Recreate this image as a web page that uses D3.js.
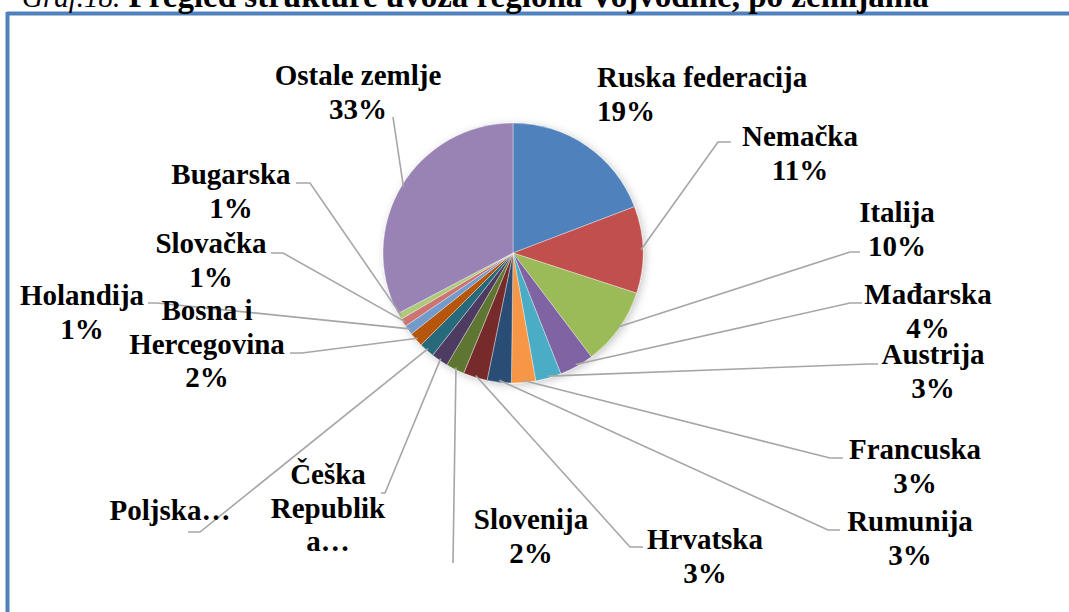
<!DOCTYPE html>
<html>
<head>
<meta charset="utf-8">
<script src="https://cdn.jsdelivr.net/npm/d3@7"></script>
<style>
html,body{margin:0;padding:0;background:#fff;}
svg{display:block;}
</style>
</head>
<body>
<svg id="chart" width="1069" height="612"></svg>
<script>
// ---- data ----
const categories = ["Ruska federacija","Nemačka","Italija","Mađarska","Austrija","Francuska","Rumunija","Hrvatska","Slovenija","Češka Republika","Poljska","Bosna i Hercegovina","Holandija","Slovačka","Bugarska","Ostale zemlje"];
const values = [19.2,10.8,9.7,4.3,3.2,3.0,3.0,3.0,2.3,2.1,1.9,1.8,1.2,1.0,0.8,32.7];
// label text lines as shown (some truncated in the original); "%" appended from values where shown
const labelNames = [["Ruska federacija"],["Nemačka"],["Italija"],["Mađarska"],["Austrija"],["Francuska"],["Rumunija"],["Hrvatska"],["Slovenija"],["Češka","Republik","a…"],["Poljska…"],["Bosna i","Hercegovina"],["Holandija"],["Slovačka"],["Bugarska"],["Ostale zemlje"]];
const showPct = [true,true,true,true,true,true,true,true,true,false,false,true,true,true,true,true];
const titleItalic = "Graf.18.";
const titleBold = " Pregled strukture uvoza regiona Vojvodine, po zemljama";

// ---- styles / layout ----
const colors = ["#4F81BD","#C0504D","#9BBB59","#8064A2","#4BACC6","#F79646","#2C4D75","#772C2A","#5F7530","#4D3B62","#276A7C","#B65708","#729ACA","#CD7371","#AFC97A","#9983B5"];
// label placement: x (anchor), first baseline y, anchor, leader elbow [x,y] and end [x,y] (null = no leader)
const labelLayout = [
  {x:597, y:87,  anchor:"start",  elbow:null, end:null},
  {x:800, y:146, anchor:"middle", elbow:[718,142], end:[731,142]},
  {x:897, y:222, anchor:"middle", elbow:[850,252], end:[860,252]},
  {x:928, y:304, anchor:"middle", elbow:[850,303], end:[862,303]},
  {x:933, y:364, anchor:"middle", elbow:[868,364], end:[878,364]},
  {x:915, y:459, anchor:"middle", elbow:[830,458], end:[843,458]},
  {x:910, y:531, anchor:"middle", elbow:[828,530], end:[840,530]},
  {x:705, y:549, anchor:"middle", elbow:[630,547], end:[643,547]},
  {x:531, y:529, anchor:"middle", elbow:[453,563], end:[453,563]},
  {x:328, y:484, anchor:"middle", elbow:[385,493], end:[381,493]},
  {x:170, y:520, anchor:"middle", elbow:[200,532], end:[188,532]},
  {x:207, y:320, anchor:"middle", elbow:[302,353], end:[290,353]},
  {x:82,  y:305, anchor:"middle", elbow:[157,303], end:[148,303]},
  {x:211, y:253, anchor:"middle", elbow:[283,253], end:[271,253]},
  {x:231, y:184, anchor:"middle", elbow:[310,183], end:[296,183]},
  {x:358, y:85,  anchor:"middle", elbow:[393,117], end:[393,117]}
];
const cx = 513, cy = 253, R = 130;
const fontSize = 29, lineGap = 33.5;
const fontFamily = "'Liberation Serif','Times New Roman',serif";

const svg = d3.select("#chart");
const defs = svg.append("defs");
const f = defs.append("filter").attr("id","sh").attr("x","-20%").attr("y","-20%").attr("width","140%").attr("height","140%");
f.append("feDropShadow").attr("dx",2).attr("dy",2).attr("stdDeviation",4).attr("flood-color","#000").attr("flood-opacity",0.22);

// frame (document border)
svg.append("line").attr("x1",7).attr("x2",1069).attr("y1",13.5).attr("y2",13.5).attr("stroke","#4F81BD").attr("stroke-width",4);
svg.append("line").attr("x1",7.5).attr("x2",7.5).attr("y1",12).attr("y2",612).attr("stroke","#4F81BD").attr("stroke-width",4);

// title (cut at top)
const t = svg.append("text").attr("x",22).attr("y",7).attr("font-family",fontFamily).attr("fill","#000");
t.append("tspan").attr("font-style","italic").attr("font-size",29).text(titleItalic);
t.append("tspan").attr("font-weight","bold").attr("font-size",33).text(titleBold);

// pie
const pie = d3.pie().sort(null).value(d => d.v);
const data = categories.map((c,i)=>({name:c, v:values[i], i}));
const arcs = pie(data);
const arc = d3.arc().innerRadius(0).outerRadius(R);
const g = svg.append("g").attr("transform",`translate(${cx},${cy})`);
g.append("g").attr("filter","url(#sh)")
  .selectAll("path").data(arcs).join("path")
  .attr("d",arc).attr("fill",d=>colors[d.data.i])
  .attr("stroke","#fff").attr("stroke-width",0.6).attr("stroke-opacity",0.6);

// leader lines
const edge = d3.arc().innerRadius(R-2).outerRadius(R-2);
arcs.forEach(d=>{
  const L = labelLayout[d.data.i];
  if(!L.elbow) return;
  const c = edge.centroid(d);
  const p0 = [cx+c[0], cy+c[1]];
  svg.append("polyline")
    .attr("points",[p0,L.elbow,L.end].map(p=>p.join(",")).join(" "))
    .attr("fill","none").attr("stroke","#A6A6A6").attr("stroke-width",1.6);
});

// labels
arcs.forEach(d=>{
  const i = d.data.i, L = labelLayout[i];
  const lines = labelNames[i].slice();
  if(showPct[i]) lines.push(Math.round(values[i])+"%");
  const tx = svg.append("text").attr("font-family",fontFamily).attr("font-size",fontSize)
    .attr("font-weight","bold").attr("fill","#000").attr("text-anchor",L.anchor);
  lines.forEach((s,k)=>{
    tx.append("tspan").attr("x",L.x).attr("y",L.y+k*lineGap).text(s);
  });
});
</script>
</body>
</html>
